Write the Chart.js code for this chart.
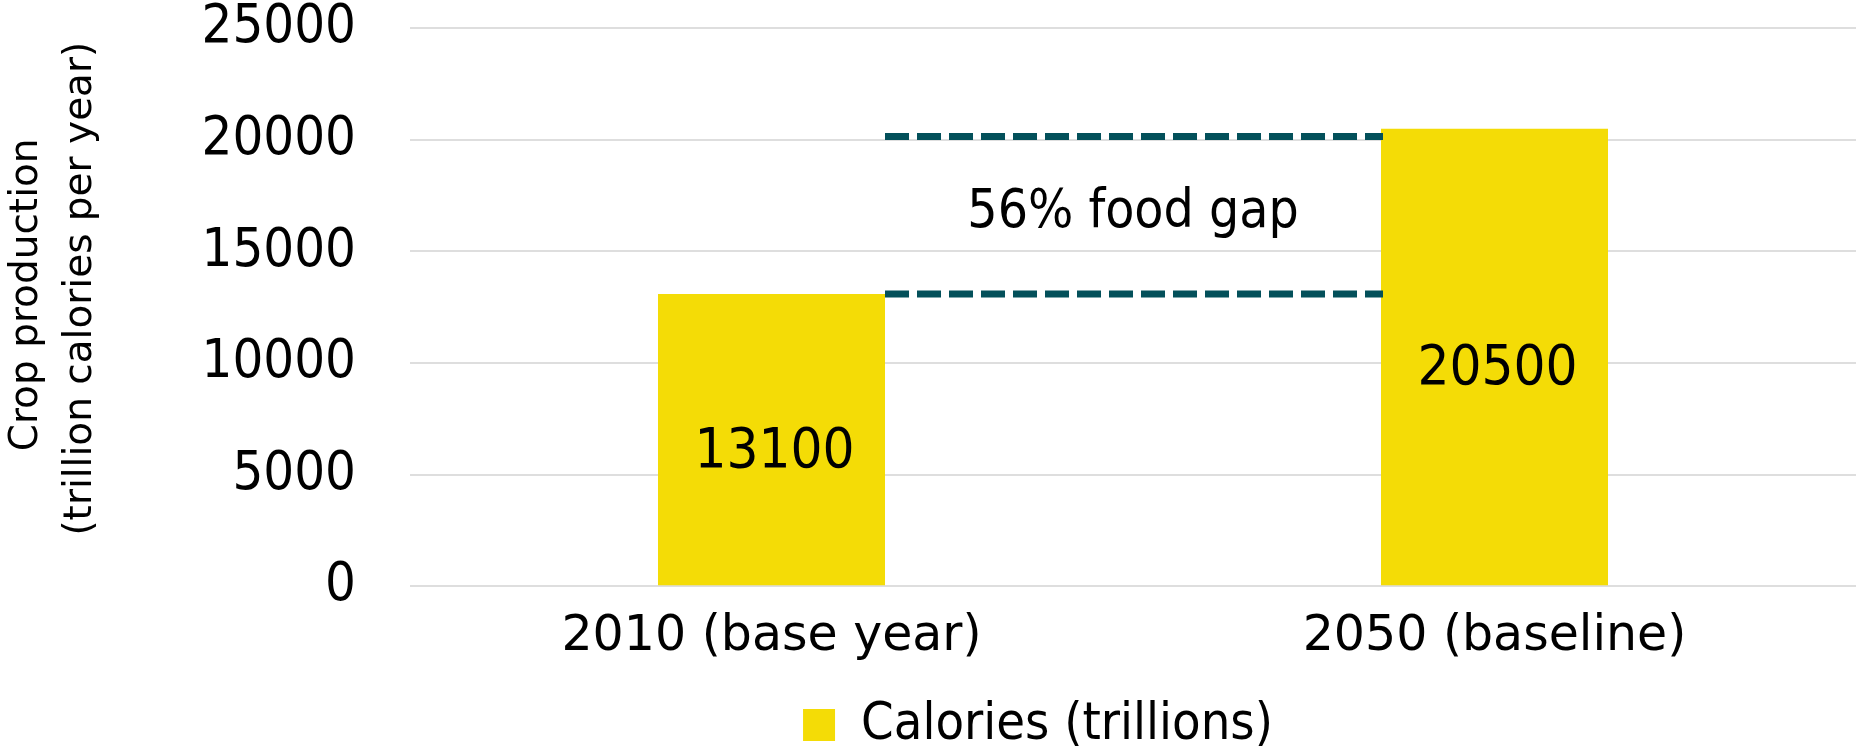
<!DOCTYPE html>
<html>
<head>
<meta charset="utf-8">
<script src="https://cdn.jsdelivr.net/npm/chart.js@4.4.1/dist/chart.umd.min.js"></script>
<style>
  html, body { margin: 0; padding: 0; background: #ffffff; }
  #wrap { width: 1856px; height: 750px; position: relative; }
</style>
</head>
<body>
<div id="wrap"><canvas id="chart"></canvas></div>
<script>
// ---- data ----
const categories = ['2010 (base year)', '2050 (baseline)'];
const seriesName = 'Calories (trillions)';
const calories = [13100, 20500];
const yTickValues = [0, 5000, 10000, 15000, 20000, 25000];
const gapLineValues = [13100, 20150];
const gapLabel = '56% food gap';
const yTitleLines = ['Crop production', '(trillion calories per year)'];

// ---- styling ----
const BAR_COLOR = '#F4DC06';
const DASH_COLOR = '#03505A';
const GRID_COLOR = '#DEDEDE';
const REG = "'DejaVu Sans', Verdana, sans-serif";
const COND = "'DejaVu Sans Condensed', 'DejaVu Sans', sans-serif";

const overlayPlugin = {
  id: 'overlay',
  afterLayout(chart) {
    const lg = chart.legend;
    if (lg) {
      lg.left = 220;
      lg.top += 11;
      lg.bottom += 11;
    }
  },
  afterDatasetsDraw(chart) {
    const ctx = chart.ctx;
    const meta = chart.getDatasetMeta(0);
    const y = chart.scales.y;
    const b0 = meta.data[0], b1 = meta.data[1];
    const x0 = b0.x + b0.width / 2;
    const x1 = b1.x - b1.width / 2;
    ctx.save();
    // dashed gap lines
    ctx.strokeStyle = DASH_COLOR;
    ctx.lineWidth = 7;
    ctx.setLineDash([24, 8]);
    ctx.lineCap = 'butt';
    const ys = gapLineValues.map(v => y.getPixelForValue(v));
    ys.forEach(py => {
      ctx.beginPath();
      ctx.moveTo(x0, py);
      ctx.lineTo(x1 + 2, py);
      ctx.stroke();
    });
    ctx.setLineDash([]);
    // gap label
    ctx.fillStyle = '#000';
    ctx.font = '53px ' + COND;
    ctx.textAlign = 'center';
    ctx.textBaseline = 'alphabetic';
    const midY = (ys[0] + ys[1]) / 2;
    ctx.fillText(gapLabel, (x0 + x1) / 2, midY + 12);
    // value labels
    ctx.font = '56px ' + COND;
    meta.data.forEach((bar, i) => {
      const cy = (bar.y + bar.base) / 2;
      ctx.fillText(String(calories[i]), bar.x + 3, cy + 27);
    });
    ctx.restore();
  }
};

new Chart(document.getElementById('chart'), {
  type: 'bar',
  data: {
    labels: categories,
    datasets: [{
      label: seriesName,
      data: calories,
      backgroundColor: BAR_COLOR,
      borderWidth: 0,
      barPercentage: 0.314,
      categoryPercentage: 1.0
    }]
  },
  options: {
    responsive: true,
    maintainAspectRatio: false,
    animation: false,
    layout: { padding: { left: 0, right: 0, top: 0, bottom: 0 } },
    plugins: {
      legend: {
        position: 'bottom',
        labels: {
          boxWidth: 32,
          boxHeight: 32,
          color: '#000',
          padding: 0,
          font: { family: COND, size: 52, lineHeight: 1.0 }
        }
      },
      tooltip: { enabled: false },
      title: { display: false }
    },
    scales: {
      x: {
        grid: { display: false, drawTicks: false },
        border: { display: false },
        ticks: {
          color: '#000',
          padding: 22,
          font: { family: REG, size: 49, lineHeight: 1.18 }
        }
      },
      y: {
        min: yTickValues[0],
        max: yTickValues[yTickValues.length - 1],
        afterBuildTicks(scale) {
          scale.ticks = yTickValues.map(v => ({ value: v }));
        },
        afterFit(scale) { scale.width = 410; },
        grid: {
          color: GRID_COLOR,
          lineWidth: 2,
          drawTicks: true,
          tickLength: 54,
          tickColor: 'rgba(0,0,0,0)'
        },
        border: { display: false },
        ticks: {
          color: '#000',
          padding: 0,
          callback: v => String(v),
          font: { family: COND, size: 54, lineHeight: 1.05 }
        },
        title: {
          display: true,
          text: ['  ' + yTitleLines[0], '   ' + yTitleLines[1]],
          color: '#000',
          padding: 0,
          font: { family: REG, size: 39, lineHeight: 1.38 }
        }
      }
    }
  },
  plugins: [overlayPlugin]
});
</script>
</body>
</html>
